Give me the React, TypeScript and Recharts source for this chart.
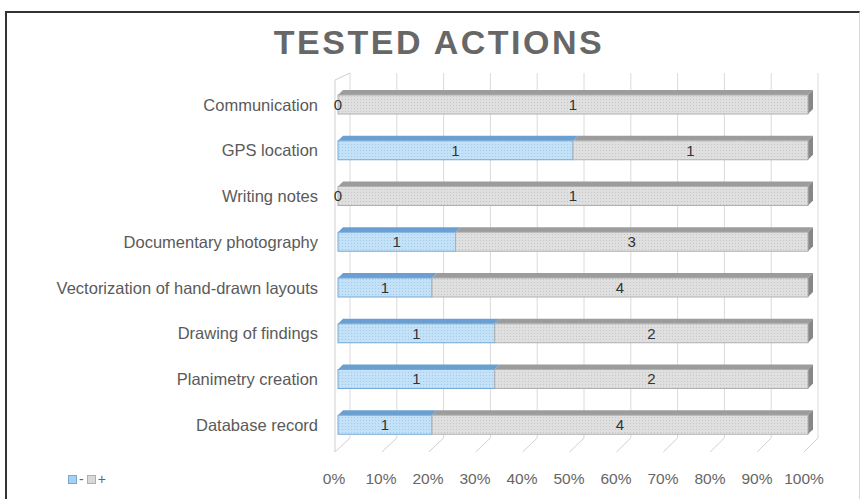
import { BarChart, Bar, XAxis, YAxis, CartesianGrid, LabelList } from "recharts";

const categories = [
  "Communication",
  "GPS location",
  "Writing notes",
  "Documentary photography",
  "Vectorization of hand-drawn layouts",
  "Drawing of findings",
  "Planimetry creation",
  "Database record",
];
const minusCounts = [0, 1, 0, 1, 1, 1, 1, 1];
const plusCounts = [1, 1, 1, 3, 4, 2, 2, 4];
const percentTicks = [0, 0.1, 0.2, 0.3, 0.4, 0.5, 0.6, 0.7, 0.8, 0.9, 1];
const seriesNames = ["-", "+"];

const data = categories.map((name, i) => ({ name, minus: minusCounts[i], plus: plusCounts[i] }));

const FONT = "'Liberation Sans', Arial, sans-serif";
const BLUE = { face: "url(#dotBlue)", top: "#6b9fd2", side: "#5a8dc0", stroke: "#74a9d8", swatch: "#a9d0f0" };
const GRAY = { face: "url(#dotGray)", top: "#9c9c9c", side: "#878787", stroke: "#b0b0b0", swatch: "#d8d8d8" };
const DEPTH = 5;

function make3DBar(c: typeof BLUE, withSide: boolean) {
  return (props: any) => {
    const { x, y, width, height } = props;
    if (width == null || height == null) return <g />;
    return (
      <g>
        <polygon
          points={`${x},${y} ${x + DEPTH},${y - DEPTH} ${x + width + DEPTH},${y - DEPTH} ${x + width},${y}`}
          fill={c.top}
        />
        {withSide && (
          <polygon
            points={`${x + width},${y} ${x + width + DEPTH},${y - DEPTH} ${x + width + DEPTH},${y + height - DEPTH} ${x + width},${y + height}`}
            fill={c.side}
          />
        )}
        <rect x={x} y={y} width={width} height={height} fill={c.face} stroke={c.stroke} strokeWidth={1} />
      </g>
    );
  };
}

// back-wall gridlines plus slanted floor lines (3D look of the original)
function gridLine(props: any) {
  const { x1, y1, y2, index } = props;
  const frontX = x1 - 3 - index * 0.1;
  const backX = x1 + 12 - index * 0.2;
  const backTop = y1 - 9;
  const backBottom = y2 - 10;
  const frontBottom = y2 + 4;
  return (
    <g key={`g-${index}`}>
      <line x1={backX} y1={backTop} x2={backX} y2={backBottom} stroke="#dadada" />
      <line x1={frontX} y1={frontBottom} x2={backX} y2={backBottom} stroke="#d0d0d0" />
      {index === 0 && (
        <g>
          <line x1={frontX} y1={y1 - 2} x2={frontX} y2={frontBottom} stroke="#cfcfcf" />
          <line x1={frontX} y1={y1 - 2} x2={backX} y2={backTop} stroke="#cfcfcf" />
        </g>
      )}
    </g>
  );
}

function LegendBox() {
  const colors = [BLUE, GRAY];
  return (
    <div
      style={{
        position: "absolute",
        left: 68,
        top: 471,
        display: "flex",
        alignItems: "center",
        fontFamily: FONT,
        fontSize: 14,
        color: "#666",
      }}
    >
      {seriesNames.map((n, i) => (
        <div key={n} style={{ display: "flex", alignItems: "center", marginRight: 3 }}>
          <span
            style={{
              display: "inline-block",
              width: 7,
              height: 7,
              background: colors[i].swatch,
              border: `1px solid ${colors[i].stroke}`,
              marginRight: 2,
            }}
          />
          <span>{n}</span>
        </div>
      ))}
    </div>
  );
}

export default function App() {
  return (
    <div style={{ position: "absolute", left: 0, top: 0, width: 861, height: 499, background: "#fff", overflow: "hidden" }}>
      <div
        style={{
          position: "absolute",
          left: 5,
          top: 11,
          width: 852,
          height: 500,
          borderLeft: "2px solid #333",
          borderTop: "2px solid #333",
          borderRight: "1px solid #d8d8d8",
        }}
      />
      <div
        style={{
          position: "absolute",
          left: 0,
          top: 22,
          width: 878,
          textAlign: "center",
          fontFamily: FONT,
          fontWeight: "bold",
          fontSize: 34,
          lineHeight: "40px",
          letterSpacing: 2.5,
          color: "#676767",
        }}
      >
        TESTED ACTIONS
      </div>
      <div style={{ position: "absolute", left: 0, top: 0 }}>
        <BarChart
          width={861}
          height={499}
          data={data}
          layout="vertical"
          stackOffset="expand"
          margin={{ top: 82, right: 53, bottom: 11, left: 0 }}
          barSize={19}
        >
          <defs>
            <pattern id="dotGray" width="3" height="3" patternUnits="userSpaceOnUse">
              <rect width="3" height="3" fill="#dfdfdf" />
              <rect width="1" height="1" fill="#c6c6c6" />
            </pattern>
            <pattern id="dotBlue" width="3" height="3" patternUnits="userSpaceOnUse">
              <rect width="3" height="3" fill="#c4e2f7" />
              <rect width="1" height="1" fill="#a4cbeb" />
            </pattern>
          </defs>
          <CartesianGrid horizontal={false} vertical={gridLine} />
          <XAxis
            type="number"
            domain={[0, 1]}
            ticks={percentTicks}
            tickFormatter={(v) => `${Math.round(v * 100)}%`}
            axisLine={false}
            tickLine={false}
            tickSize={0}
            tickMargin={25}
            height={40}
            tick={{ fontSize: 15.5, fill: "#666", fontFamily: FONT, dx: -4 }}
          />
          <YAxis
            type="category"
            dataKey="name"
            width={338}
            axisLine={false}
            tickLine={false}
            tickSize={0}
            tickMargin={20}
            tick={{ fontSize: 16.5, fill: "#5a5a5a", fontFamily: FONT }}
          />
          <Bar dataKey="minus" stackId="a" name="-" isAnimationActive={false} shape={make3DBar(BLUE, false)}>
            <LabelList dataKey="minus" position="center" fill="#333" fontSize={15} fontFamily={FONT} />
          </Bar>
          <Bar dataKey="plus" stackId="a" name="+" isAnimationActive={false} shape={make3DBar(GRAY, true)}>
            <LabelList dataKey="plus" position="center" fill="#333" fontSize={15} fontFamily={FONT} />
          </Bar>
        </BarChart>
      </div>
      <LegendBox />
    </div>
  );
}
